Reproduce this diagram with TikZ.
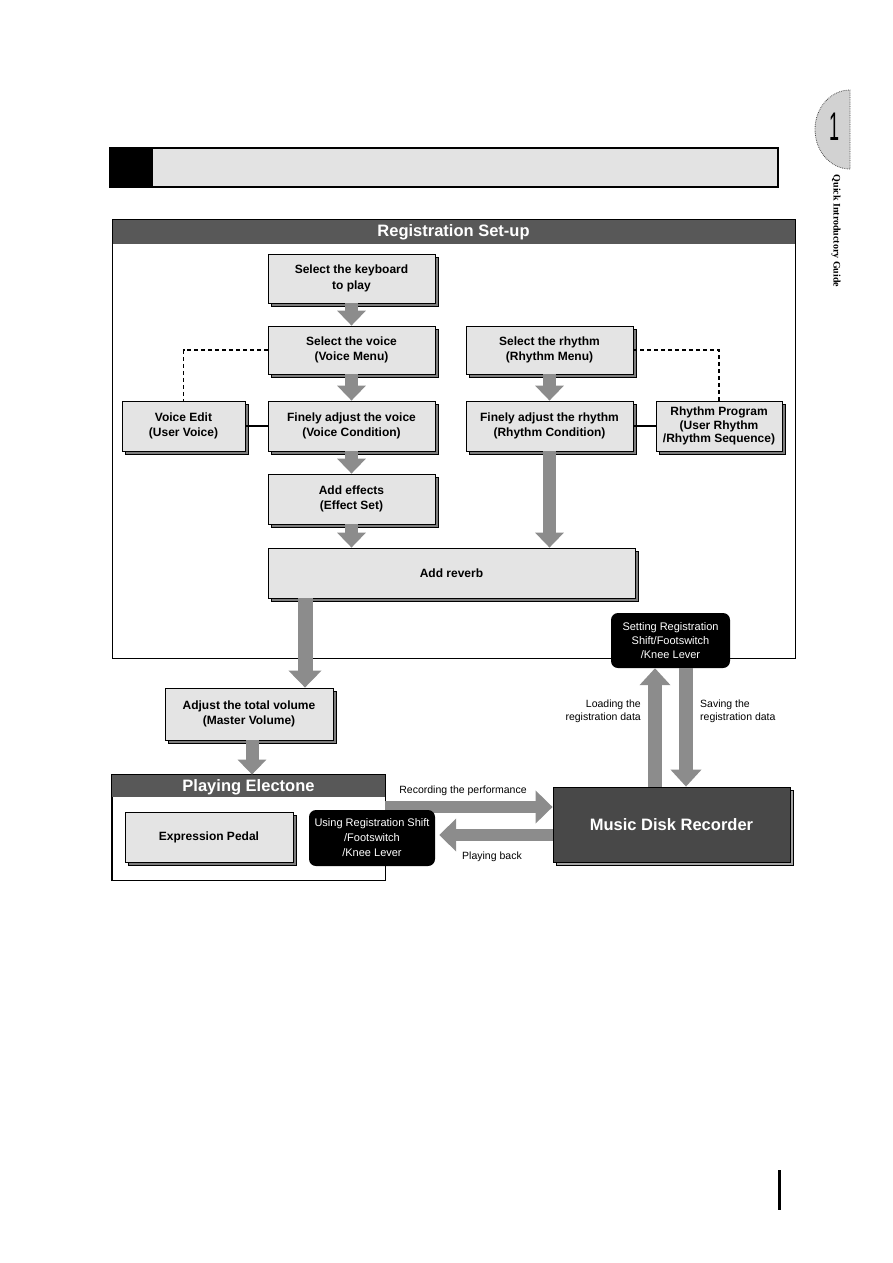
\documentclass[tikz,border=0pt]{standalone}
\usepackage{fontspec}
\setmainfont{Liberation Sans}
\newfontfamily\tabfont{Liberation Serif}
\usetikzlibrary{arrows.meta, positioning, calc, shadows}
\definecolor{cBox}{RGB}{228,228,228}
\definecolor{cShade}{RGB}{125,125,125}
\definecolor{cBar}{RGB}{88,88,88}
\definecolor{cArrow}{RGB}{140,140,140}
\definecolor{cDisk}{RGB}{72,72,72}
\definecolor{cHead}{RGB}{227,227,227}

\begin{document}
\begin{tikzpicture}[x=1pt, y=-1pt,
    stepbox/.style={draw, fill=cBox, line width=0.8pt, align=center, inner sep=1pt,
      font=\bfseries\fontsize{12}{15.5}\selectfont,
      copy shadow={shadow xshift=3pt, shadow yshift=-3pt, fill=cShade, draw=black, line width=0.6pt}},
    blackbox/.style={fill=black, text=white, rounded corners=7pt, align=center, inner sep=1pt,
      font=\fontsize{11}{14.5}\selectfont},
    bartitle/.style={text=white, font=\bfseries\fontsize{16.5}{18}\selectfont},
    smalllbl/.style={font=\fontsize{10.5}{13}\selectfont, inner sep=0pt},
    bigarrow/.style={draw=cArrow, line width=13pt, -{Triangle[width=28pt, length=15pt]}},
    link/.style={line width=1.5pt},
    dashlink/.style={line width=1.7pt, dash pattern=on 4pt off 3pt}
  ]
  \useasboundingbox (0,0) rectangle (893,1263);

  % chapter tab
  \path[fill=gray!35, draw=black!70, densely dotted, line width=0.8pt]
    (850,169) arc[start angle=90, end angle=270, x radius=35, y radius=39.5] -- cycle;
  \node (chapno) at (834,127) {\scalebox{0.45}[1]{\fontsize{40}{40}\selectfont 1}};
  \node[rotate=-90, font=\tabfont\bfseries\fontsize{10}{10}\selectfont] (tabtxt) at (836,231) {Quick Introductory Guide};

  % header bar
  \draw[line width=1.2pt, fill=cHead] (110,148) rectangle (778,187);
  \fill (110,148) rectangle (153,187);

  % registration panel
  \fill[cBar] (112,219) rectangle (795,244);
  \draw[line width=0.8pt] (112,219) rectangle (795,658);
  \node[bartitle] (regtitle) at (453.5,232) {Registration Set-up};

  % playing panel
  \node[draw, line width=0.8pt, minimum width=273pt, minimum height=105pt] (play) at (248.5,827.5) {};
  \fill[cBar] (play.north west) rectangle ($(play.north east)+(0,22)$);
  \draw[line width=0.8pt] (play.north west) rectangle (play.south east);
  \node[bartitle] (playtitle) at (248.5,787) {Playing Electone};

  % tap points
  \coordinate (vtap) at (305,0);
  \coordinate (etap) at (252,0);
  \coordinate (rec) at (0,807);
  \coordinate (back) at (0,835);
  \coordinate (upx) at (655,0);
  \coordinate (dnx) at (686,0);

  \node[stepbox, minimum width=167pt, minimum height=49pt] (kbd) at (351.5,278.5) {Select the keyboard\\to play};
  \node[stepbox, minimum width=167pt, minimum height=48pt] (voice) at (351.5,350) {Select the voice\\(Voice Menu)};
  \node[stepbox, minimum width=123pt, minimum height=50pt] (vedit) at (183.5,426) {Voice Edit\\(User Voice)};
  \node[stepbox, minimum width=167pt, minimum height=50pt] (vcond) at (351.5,426) {Finely adjust the voice\\(Voice Condition)};
  \node[stepbox, minimum width=167pt, minimum height=50pt] (effect) at (351.5,499) {Add effects\\(Effect Set)};
  \node[stepbox, minimum width=167pt, minimum height=48pt] (rhythm) at (549.5,350) {Select the rhythm\\(Rhythm Menu)};
  \node[stepbox, minimum width=167pt, minimum height=50pt] (rcond) at (549.5,426) {Finely adjust the rhythm\\(Rhythm Condition)};
  \node[stepbox, minimum width=126pt, minimum height=50pt, font=\bfseries\fontsize{12}{13.5}\selectfont] (rprog) at (719,426) {Rhythm Program\\(User Rhythm\\/Rhythm Sequence)};
  \node[stepbox, minimum width=367pt, minimum height=50pt] (reverb) at (451.5,573) {Add reverb};
  \node[stepbox, minimum width=168pt, minimum height=52pt] (master) at (249,714) {Adjust the total volume\\(Master Volume)};
  \node[stepbox, minimum width=168pt, minimum height=50pt] (pedal) at (209,837) {Expression Pedal};

  \node[draw, fill=cDisk, text=white, line width=0.8pt, minimum width=237pt, minimum height=75pt,
    font=\bfseries\fontsize{16.5}{18}\selectfont,
    copy shadow={shadow xshift=3pt, shadow yshift=-3pt, fill=gray!70, draw=black}] (mdr) at (671.5,824.5) {Music Disk Recorder};

  % arrows
  \draw[bigarrow] (kbd) -- (voice);
  \draw[bigarrow] (voice) -- (vcond);
  \draw[bigarrow] (vcond) -- (effect);
  \draw[bigarrow] (effect) -- (effect |- reverb.north);
  \draw[bigarrow] (rhythm) -- (rcond);
  \draw[bigarrow] (rcond) -- (rcond |- reverb.north);
  \draw[bigarrow, line width=15pt, -{Triangle[width=32pt, length=17pt]}] (reverb.south -| vtap) -- (master.north -| vtap);
  \draw[bigarrow] (master.south -| etap) -- (play.north -| etap);
  \draw[bigarrow, line width=12pt, -{Triangle[width=32pt, length=17pt]}] (play.east |- rec) -- (mdr.west |- rec);

  % black boxes
  \node[blackbox, minimum width=119pt, minimum height=55pt, font=\fontsize{11}{14}\selectfont] (setreg) at (670.5,640.5) {Setting Registration\\Shift/Footswitch\\/Knee Lever};
  \node[blackbox, minimum width=126pt, minimum height=56pt, font=\fontsize{11}{15}\selectfont] (usereg) at (372,838) {Using Registration Shift\\/Footswitch\\/Knee Lever};
  \draw[bigarrow, line width=12pt, -{Triangle[width=32pt, length=17pt]}, shorten >=4pt] (mdr.west |- back) -- (usereg.east |- back);
  \draw[bigarrow, line width=14pt, -{Triangle[width=30pt, length=17pt]}] (mdr.north -| upx) -- (setreg.south -| upx);
  \draw[bigarrow, line width=14pt, -{Triangle[width=30pt, length=17pt]}] (setreg.south -| dnx) -- (mdr.north -| dnx);

  % side links
  \draw[dashlink] (voice.west) -| (vedit.north);
  \draw[link] (vedit) -- (vcond);
  \draw[dashlink] (rhythm.east) -| (rprog.north);
  \draw[link] (rcond) -- (rprog);

  % labels
  \node[smalllbl, align=right, anchor=east] (loadlbl) at (641,711.5) {Loading the\\registration data};
  \node[smalllbl, align=left, anchor=west] (savelbl) at (700,711.5) {Saving the\\registration data};
  \node[smalllbl] (reclbl) at (463,791) {Recording the performance};
  \node[smalllbl] (backlbl) at (492,857) {Playing back};

  % page marker
  \draw[line width=3pt] (779,1170) -- (779,1210);
\end{tikzpicture}
\end{document}
